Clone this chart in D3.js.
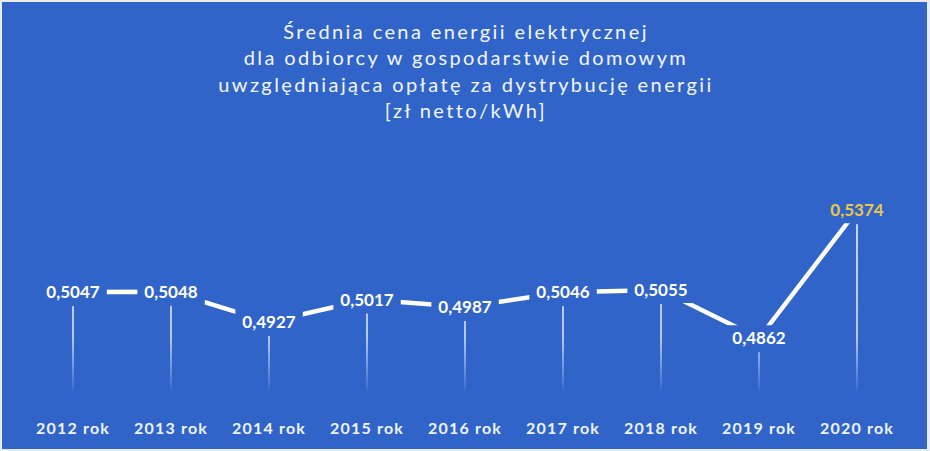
<!DOCTYPE html>
<html>
<head>
<meta charset="utf-8">
<script src="https://cdn.jsdelivr.net/npm/d3@7"></script>
<style>
  html, body { margin: 0; padding: 0; background: #e9ecf2; }
  svg { display: block; }
</style>
</head>
<body>
<svg id="chart" width="930" height="451"></svg>
<script>
const categories = ["2012 rok","2013 rok","2014 rok","2015 rok","2016 rok","2017 rok","2018 rok","2019 rok","2020 rok"];
const values = [0.5047, 0.5048, 0.4927, 0.5017, 0.4987, 0.5046, 0.5055, 0.4862, 0.5374];
const valueLabels = ["0,5047","0,5048","0,4927","0,5017","0,4987","0,5046","0,5055","0,4862","0,5374"];
const titleLines = [
  "Średnia cena energii elektrycznej",
  "dla odbiorcy w gospodarstwie domowym",
  "uwzględniająca opłatę za dystrybucję energii",
  "[zł netto/kWh]"
];

const W = 930, H = 451;
const bg = "#3164c9";
const svg = d3.select("#chart");

svg.append("rect").attr("x", 2).attr("y", 2).attr("width", W - 5).attr("height", H - 4).attr("fill", bg);

const defs = svg.append("defs");
const grad = defs.append("linearGradient").attr("id", "drop")
  .attr("gradientUnits", "userSpaceOnUse").attr("x1", 0).attr("x2", 0).attr("y1", 200).attr("y2", 392);
grad.append("stop").attr("offset", 0).attr("stop-color", "#ffffff").attr("stop-opacity", 0.95);
grad.append("stop").attr("offset", 0.72).attr("stop-color", "#ffffff").attr("stop-opacity", 0.8);
grad.append("stop").attr("offset", 1).attr("stop-color", "#ffffff").attr("stop-opacity", 0.05);

// Title
const title = svg.append("g").attr("font-family", "Lato, 'Open Sans', sans-serif")
  .attr("font-size", 20).attr("fill", "#f2f6ff").attr("text-anchor", "middle")
  .attr("letter-spacing", 2.4);
title.selectAll("text").data(titleLines).join("text")
  .attr("x", 466).attr("y", (d, i) => 39 + i * 26.3).text(d => d);

const x = d3.scalePoint().domain(categories).range([73, 857]).padding(0);
const y = d3.scaleLinear().domain([0.45, 0.55]).range([428.75, 178.75]);

const data = categories.map((c, i) => ({ c, v: values[i], label: valueLabels[i] }));

// drop lines
svg.append("g").selectAll("line").data(data).join("line")
  .attr("x1", d => x(d.c)).attr("x2", d => x(d.c))
  .attr("y1", d => y(d.v) + 14).attr("y2", 390)
  .attr("stroke", "url(#drop)").attr("stroke-width", 1.6);

// connecting line
const line = d3.line().x(d => x(d.c)).y(d => y(d.v));
svg.append("path").datum(data).attr("d", line)
  .attr("fill", "none").attr("stroke", "#ffffff").attr("stroke-width", 4.5)
  .attr("stroke-linejoin", "miter");

// value labels with background boxes
const lg = svg.append("g").attr("font-family", "Lato, 'Open Sans', sans-serif")
  .attr("font-weight", "bold").attr("font-size", 17);
const lbl = lg.selectAll("g").data(data).join("g")
  .attr("transform", d => `translate(${x(d.c)},${y(d.v)})`);
const txt = lbl.append("text").attr("text-anchor", "middle").attr("dy", "0.36em")
  .attr("fill", (d, i) => i === data.length - 1 ? "#e9c64c" : "#ffffff")
  .text(d => d.label);
txt.each(function() {
  const b = this.getBBox();
  d3.select(this.parentNode).insert("rect", "text")
    .attr("x", b.x - 7).attr("y", -13).attr("width", b.width + 14).attr("height", 26)
    .attr("fill", bg);
});

// category labels
svg.append("g").attr("font-family", "Lato, 'Open Sans', sans-serif")
  .attr("font-weight", "bold").attr("font-size", 16).attr("fill", "#eef3ff")
  .attr("letter-spacing", 1.2).attr("text-anchor", "middle")
  .selectAll("text").data(categories).join("text")
  .attr("x", d => x(d)).attr("y", 434).text(d => d);
</script>
</body>
</html>
